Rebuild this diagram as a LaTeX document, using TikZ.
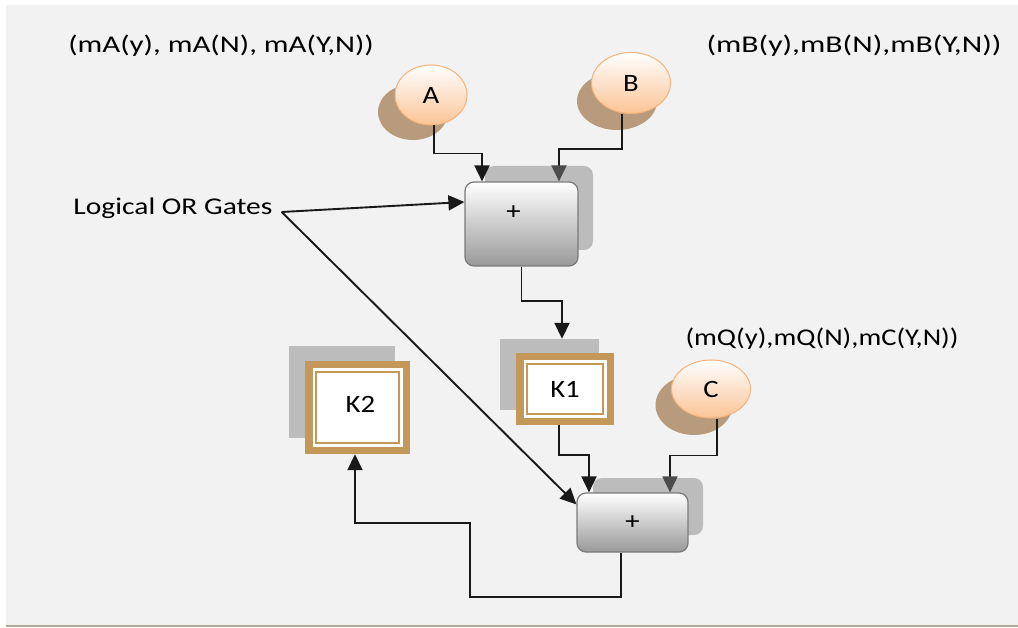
\documentclass[tikz,border=0pt]{standalone}
\usepackage{fontspec}
\usepackage{graphicx}
\setmainfont{Carlito}
\usetikzlibrary{arrows.meta,shapes.geometric,calc}
\definecolor{bg}{HTML}{F2F2F2}
\definecolor{tanc}{HTML}{C4975A}
\definecolor{eshadow}{HTML}{B89A7C}
\definecolor{eborder}{HTML}{F4B27C}
\definecolor{ebottom}{HTML}{FBC496}
\definecolor{bshadow}{HTML}{BCBCBC}
\definecolor{bborder}{HTML}{7A7A7A}
\definecolor{bbottom}{HTML}{999999}
\definecolor{basecol}{HTML}{B5AA9A}
\newcommand\tx[1]{\scalebox{1.15}[1]{#1}}
\newcommand\txs[2]{\scalebox{#1}[1]{#2}}
\tikzset{
  lab/.style={font=\fontsize{24}{27}\selectfont, inner sep=0pt},
  plustext/.style={font=\fontsize{25}{28}\selectfont, inner sep=0pt},
  ell/.style={ellipse, draw=eborder, line width=1pt, top color=white, bottom color=ebottom, inner sep=0pt, font=\fontsize{25}{28}\selectfont},
  eshad/.style={ellipse, fill=eshadow, draw=none, inner sep=0pt},
  gate/.style={rectangle, rounded corners=9pt, draw=bborder, line width=1.2pt, top color=white, bottom color=bbottom, inner sep=0pt, font=\fontsize{25}{28}\selectfont},
  gshad/.style={rectangle, rounded corners=9pt, fill=bshadow, inner sep=0pt},
  kshad/.style={rectangle, fill=bshadow, inner sep=0pt},
  kbox/.style={rectangle, fill=tanc, inner sep=0pt, font=\fontsize{25}{28}\selectfont,
    path picture={
      \fill[white] ([shift={(7.5pt,7.5pt)}]path picture bounding box.south west) rectangle ([shift={(-7.5pt,-7.5pt)}]path picture bounding box.north east);
      \draw[tanc,line width=1.6pt] ([shift={(11pt,11pt)}]path picture bounding box.south west) rectangle ([shift={(-11pt,-11pt)}]path picture bounding box.north east);}},
  arr/.style={line width=1.9pt, draw=black!90, -{Triangle[length=16pt,width=15pt]}},
  arrg/.style={line width=1.9pt, draw=black!90, -{Triangle[length=16pt,width=15pt,color=black!70]}},
}
\begin{document}
\begin{tikzpicture}[x=1pt,y=-1pt]
\useasboundingbox (0,0) rectangle (1018,628);
\fill[bg] (6,5) rectangle (1018,625);
\draw[basecol,line width=2pt] (6,626) -- (1018,626);

% labels
\node[lab] (la) at (221,46) {\txs{1.29}{(mA(y), mA(N), mA(Y,N))}};
\node[lab] (lb) at (854,46) {\txs{1.32}{(mB(y),mB(N),mB(Y,N))}};
\node[lab] (lc) at (822,339) {\txs{1.19}{(mQ(y),mQ(N),mC(Y,N))}};
\node[lab] (lor) at (173,208) {\txs{1.23}{Logical OR Gates}};

% shadows
\node[eshad, minimum width=70pt, minimum height=56pt] (As) at (413,112) {};
\node[eshad, minimum width=80pt, minimum height=58pt] (Bs) at (617,101) {};
\node[eshad, minimum width=77pt, minimum height=60pt] (Cs) at (694,405) {};
\node[gshad, minimum width=108pt, minimum height=84pt] (P1s) at (539,208) {};
\node[gshad, minimum width=110pt, minimum height=57pt] (P2s) at (648,506.5) {};
\node[kshad, minimum width=99pt, minimum height=71pt] (K1s) at (549.5,374.5) {};
\node[kshad, minimum width=106pt, minimum height=92pt] (K2s) at (342,392) {};

% main nodes
\node[ell, minimum width=72pt, minimum height=60pt] (A) at (431,95) {\tx{A}};
\node[ell, minimum width=79pt, minimum height=61pt] (B) at (631,83) {\tx{B}};
\node[ell, minimum width=79pt, minimum height=58pt] (C) at (711,389) {\tx{C}};
\node[gate, minimum width=113pt, minimum height=84pt,
      label={[plustext, shift={(-8pt,11pt)}]center:\tx{+}}] (P1) at (521.5,224) {};
\node[gate, minimum width=111pt, minimum height=59pt] (P2) at (632.5,522.5) {\tx{+}};
\node[kbox, minimum width=98pt, minimum height=72pt] (K1) at (565,389) {\raisebox{-3pt}{\tx{K1}}};
\node[kbox, minimum width=105pt, minimum height=93pt] (K2) at (357.5,407.5) {\raisebox{6pt}{\hspace*{6pt}\tx{K2}}};

% connectors
\draw[arr] ([xshift=3pt]A.south) -- ++(0,28) -| ([xshift=-39.5pt]P1.north);
\draw[arrg] ([xshift=-9pt]B.south) -- ++(0,35) -| ([xshift=37.5pt]P1.north);
\draw[arr] (P1.south) -- ++(0,34) -| ([xshift=-3pt]K1.north |- K1s.north);
\draw[arr] ([xshift=-6pt]K1.south) -- ++(0,30) -| ([xshift=-43.5pt]P2.north);
\draw[arrg] ([xshift=6pt]C.south) -- ++(0,37) -| ([xshift=37.5pt]P2.north);
\draw[arr] ([xshift=-11.5pt]P2.south) -- ++(0,44) -| ++(-151,-74) -| ([xshift=-2.5pt]K2.south);
\draw[arr] ([shift={(9pt,-4pt)}]lor.east) -- ([yshift=22pt]P1.west);
\draw[arr] ([shift={(9pt,-4pt)}]lor.east) -- ([yshift=-12pt]P2.north west);
\end{tikzpicture}
\end{document}
